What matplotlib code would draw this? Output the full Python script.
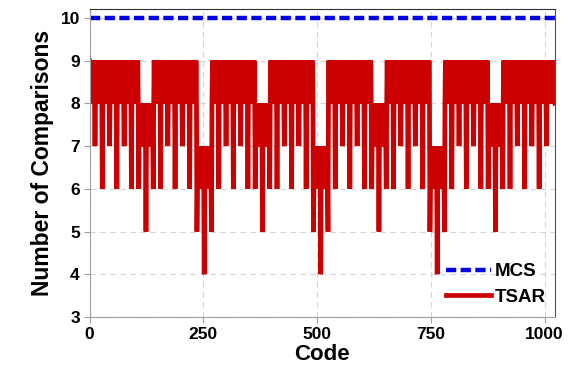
import numpy as np
import matplotlib
matplotlib.use("Agg")
import matplotlib.pyplot as plt

plt.rcParams['font.family'] = ['Liberation Sans', 'DejaVu Sans']
plt.rcParams['font.weight'] = 'bold'

# codes of the 10-bit converter
n_codes = 1024

# MCS always needs 10 comparisons
mcs_value = 10

# TSAR: solid bands (value flips between high/low every code) read per segment
seg_start = [0, 108, 140, 236, 268, 364, 396, 492, 524, 620, 652, 748, 780, 876, 908]
seg_end = [108, 140, 236, 268, 364, 396, 492, 524, 620, 652, 748, 780, 876, 908, 1024]
seg_high = [9, 8, 9, 7, 9, 8, 9, 7, 9, 8, 9, 7, 9, 8, 9]
seg_low = [8, 7, 8, 6, 8, 7, 8, 6, 8, 7, 8, 6, 8, 7, 8]

# TSAR: single codes that dip below the band
spike_code = [12, 28, 44, 60, 76, 92, 108, 124, 140, 156, 172, 188, 204, 220, 236, 252,
              268, 284, 300, 316, 332, 348, 364, 380, 396, 412, 428, 444, 460, 476, 492, 508,
              524, 540, 556, 572, 588, 604, 620, 636, 652, 668, 684, 700, 716, 732, 748, 764,
              780, 796, 812, 828, 844, 860, 876, 892, 908, 924, 940, 956, 972, 988, 1004]
spike_value = [7, 6, 7, 6, 7, 6, 6, 5, 6, 6, 7, 6, 7, 6, 5, 4,
               5, 6, 7, 6, 7, 6, 6, 5, 6, 6, 7, 6, 7, 6, 5, 4,
               5, 6, 7, 6, 7, 6, 6, 5, 6, 6, 7, 6, 7, 6, 5, 4,
               5, 6, 7, 6, 7, 6, 6, 5, 6, 6, 7, 6, 7, 6, 7]

x_ticks = [0, 250, 500, 750, 1000]
y_ticks = [3, 4, 5, 6, 7, 8, 9, 10]

codes = np.arange(n_codes)
mcs = np.full(n_codes, mcs_value)

tsar = np.zeros(n_codes)
for s, e, hi, lo in zip(seg_start, seg_end, seg_high, seg_low):
    tsar[s:e] = hi
    tsar[s + 1:e:2] = lo
tsar[spike_code] = spike_value

fig = plt.figure(figsize=(5.74, 3.76), dpi=100)
ax = fig.add_axes([0.156, 0.157, 0.811, 0.818])

ax.plot(codes, mcs, color='#0000e6', lw=3.2, ls=(0, (2.3, 1.0)), label='MCS')
ax.plot(codes, tsar, color='#cc0000', lw=3.4, solid_joinstyle='bevel', label='TSAR')

ax.set_xlim(0, 1023)
ax.set_ylim(3, 10.2)
ax.set_xticks(x_ticks)
ax.set_yticks(y_ticks)
ax.grid(True, color='#d4d4d4', linestyle=(0, (5, 4)), linewidth=0.8)
ax.set_axisbelow(True)

ax.tick_params(labelsize=12.5, length=4, color='#a0a0a0', pad=3)
for lab in ax.get_xticklabels() + ax.get_yticklabels():
    lab.set_fontweight('bold')

ax.spines['left'].set_color('#a0a0a0')
ax.spines['bottom'].set_color('#a0a0a0')
ax.spines['top'].set_color('#303030')
ax.spines['right'].set_color('#505050')

ax.set_xlabel('Code', fontsize=16, fontweight='bold', labelpad=2)
ax.set_ylabel('Number of Comparisons', fontsize=16.5, fontweight='bold', labelpad=5)

ax.legend(loc='lower right', frameon=False, prop={'weight': 'bold', 'size': 13.5},
          handlelength=2.4, handletextpad=0.2, labelspacing=0.45,
          bbox_to_anchor=(1.005, 0.0), borderaxespad=0.2)

fig.savefig('out.png', dpi=100)
